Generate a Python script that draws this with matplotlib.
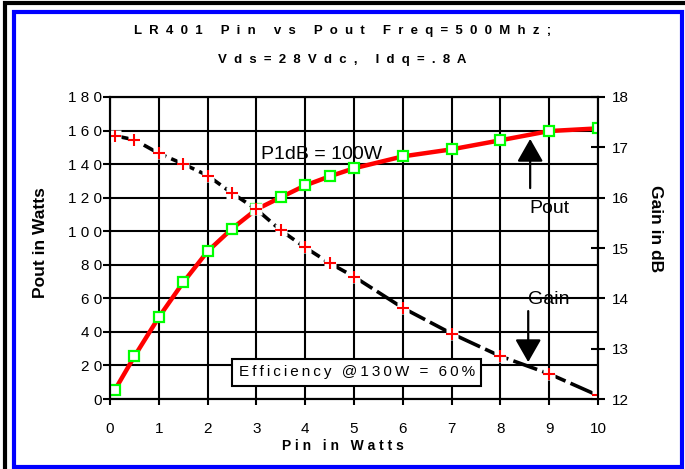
import matplotlib
matplotlib.use('Agg')
import matplotlib.pyplot as plt
from matplotlib.patches import Rectangle

plt.rcParams['font.family'] = ['Liberation Sans', 'DejaVu Sans']

# data
pin = [0.1, 0.5, 1, 1.5, 2, 2.5, 3, 3.5, 4, 4.5, 5, 6, 7, 8, 9, 10]
pout = [5.4, 25.4, 48.7, 69.5, 88.0, 101.5, 113.0, 120.2, 127.3, 132.7,
        137.5, 144.6, 148.8, 154.2, 159.7, 161.3]
gain = [17.23, 17.15, 16.88, 16.67, 16.44, 16.09, 15.77, 15.35, 15.01, 14.70,
        14.43, 13.81, 13.30, 12.85, 12.50, 12.07]

xticks = list(range(0, 11))
pout_ticks = list(range(0, 181, 20))
gain_ticks = list(range(12, 19))

title1 = 'LR401 Pin vs Pout Freq=500Mhz;'
title2 = 'Vds=28Vdc, Idq=.8A'


def spaced(s, sep=' '):
    # fake letter spacing like the original excel chart
    return sep.join(s)


W, H = 685, 469
fig = plt.figure(figsize=(W / 100, H / 100), dpi=100)

# frames round the picture
fig.patches.append(Rectangle((5 / W, -10 / H), 700 / W, 1 - 3 / H + 10 / H,
                             transform=fig.transFigure, fill=False,
                             ec='black', lw=3, zorder=0))
fig.patches.append(Rectangle((14 / W, 1 - 467 / H), 667.5 / W, 455 / H,
                             transform=fig.transFigure, fill=False,
                             ec='#0000ff', lw=3, zorder=0))

ax = fig.add_axes([110 / W, 1 - 399 / H, 488 / W, 302 / H])
ax2 = ax.twinx()

# pout
ax.plot(pin, pout, color='red', lw=3.2, zorder=3)
ax.plot(pin, pout, ls='none', marker='s', ms=7, mfc='white', mec='#00ff00',
        mew=1.6, zorder=4)

# gain
ax2.plot(pin, gain, color='black', lw=2.6, ls=(0, (7, 1.5)))
ax2.plot(pin, gain, ls='none', marker='s', ms=8, mfc='white', mec='none')
ax2.plot(pin, gain, ls='none', marker='+', ms=8.5, mec='red', mew=1.5)

ax.set_xlim(0, 10)
ax.set_ylim(0, 180)
ax2.set_ylim(12, 18)
ax.set_xticks(xticks)
ax.set_yticks(pout_ticks)
ax.set_yticklabels([spaced(str(v)) for v in pout_ticks])
ax2.set_yticks(gain_ticks)

ax.grid(True, color='black', lw=1.5)
ax.set_axisbelow(True)
for a in (ax, ax2):
    for sp in a.spines.values():
        sp.set_linewidth(1.5)

ax.tick_params(axis='x', direction='out', length=4.5, width=1.5, pad=12,
               labelsize=11)
ax.tick_params(axis='y', direction='out', length=5, width=1.5, pad=0.5,
               labelsize=11)
ax2.tick_params(axis='y', direction='inout', length=9.5, width=1.5, pad=5,
                labelsize=11)

ax.set_xlabel(spaced('Pin in Watts'), fontsize=10, fontweight='bold',
              va='center')
ax.xaxis.set_label_coords(0.477, -0.156)
ax.set_ylabel('Pout in Watts', fontsize=12.5, fontweight='bold',
              va='center', ha='center')
ax.yaxis.set_label_coords(-0.143, 0.517)
ax2.set_ylabel('Gain in dB', fontsize=12.5, fontweight='bold', rotation=270,
               va='center', ha='center')
ax2.yaxis.set_label_coords(1.117, 0.563)

# title
fig.text(0.5, 1 - 31 / H, spaced(title1, '  '), ha='center', va='center',
         fontsize=9.5, fontweight='bold')
fig.text(0.5, 1 - 60 / H, spaced(title2, '  '), ha='center', va='center',
         fontsize=9.5, fontweight='bold')

# notes and arrows
ax.text(4.34, 143.0, 'P1dB = 100W', fontsize=14, ha='center', va='baseline')
ax.text(9.0, 110.8, 'Pout', fontsize=14, ha='center', va='baseline')
ax.text(9.0, 56.6, 'Gain', fontsize=14, ha='center', va='baseline')

arr = dict(arrowstyle='-|>,head_length=1.4,head_width=0.8', color='black',
           lw=1.6, shrinkA=0, shrinkB=0, mutation_scale=10)
ax.annotate('', xy=(8.61, 155), xytext=(8.61, 125.7), arrowprops=arr,
            zorder=6)
ax.annotate('', xy=(8.57, 22.0), xytext=(8.57, 52.4), arrowprops=arr,
            zorder=6)

ax2.text(5.06, 12.53, spaced('Efficiency @130W = 60%', '\u2009'),
         fontsize=11, ha='center', va='center', zorder=10,
         bbox=dict(boxstyle='square,pad=0.42', fc='white', ec='black', lw=1.5))

fig.savefig('out.png', dpi=100)
